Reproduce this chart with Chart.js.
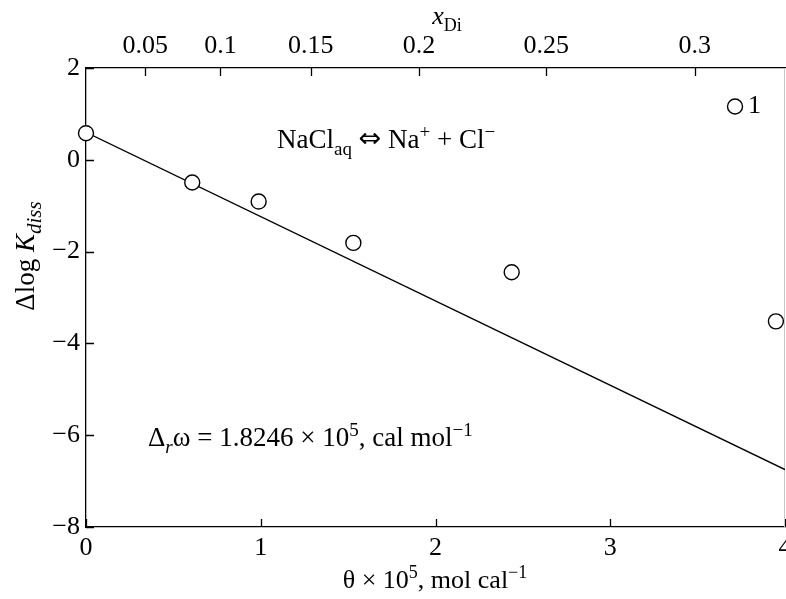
<!DOCTYPE html>
<html>
<head>
<meta charset="utf-8">
<script src="https://cdn.jsdelivr.net/npm/chart.js@4.4.1/dist/chart.umd.min.js"></script>
<style>
  html, body { margin: 0; padding: 0; background: #fff; }
  #wrap { width: 786px; height: 599px; }
</style>
</head>
<body>
<div id="wrap"><canvas id="chart"></canvas></div>
<script>
// measured points (theta x 1e5, delta log K)
const thetaVals = [0, 0.608, 0.988, 1.53, 2.436, 3.714, 3.948];
const logKVals = [0.58, -0.495, -0.91, -1.81, -2.45, 1.16, -3.52];

// fitted straight line
const fitTheta = [0, 4];
const fitLogK = [0.6, -6.75];

// bottom / left ticks
const xTicks = [0, 1, 2, 3, 4];
const yTicks = [2, 0, -2, -4, -6, -8];

// top axis (x_Di) labels and where they sit on the theta scale
const topLabels = ['0.05', '0.1', '0.15', '0.2', '0.25', '0.3'];
const topPos = [0.339, 0.769, 1.286, 1.905, 2.634, 3.483];

const FONT = '"Liberation Serif", "Times New Roman", serif';
const FS = 26;   // ticks and axis titles
const FA = 27;   // annotations inside the plot

const fmt = v => (v < 0 ? '\u2212' + Math.abs(v) : String(v));

// text made of pieces: [text, kind]  kind: '', 'i', 'sub', 'sup', 'isub', 'arrow'
function fontFor(k, size, subScale) {
  if (k === 'arrow') return size + 'px "DejaVu Sans"';
  const small = (k === 'sub' || k === 'sup' || k === 'isub');
  const s = small ? Math.round(size * (subScale || 0.7)) : size;
  const it = (k === 'i' || k === 'isub') ? 'italic ' : '';
  return it + s + 'px ' + FONT;
}
function richWidth(ctx, parts, size, subScale) {
  let w = 0;
  parts.forEach(([t, k]) => {
    ctx.font = fontFor(k, size, subScale);
    w += ctx.measureText(t).width;
  });
  return w;
}
function drawRich(ctx, x, y, parts, size, align, subScale) {
  let cx = x;
  if (align === 'center') cx = x - richWidth(ctx, parts, size, subScale) / 2;
  ctx.textAlign = 'left';
  ctx.textBaseline = 'alphabetic';
  ctx.fillStyle = '#000';
  parts.forEach(([t, k]) => {
    ctx.font = fontFor(k, size, subScale);
    let dy = 0;
    if (k === 'sub' || k === 'isub') dy = size * 0.25;
    if (k === 'sup') dy = -size * 0.38;
    if (k === 'arrow') dy = -size * 0.02;
    ctx.fillText(t, cx, y + dy);
    cx += ctx.measureText(t).width;
  });
}

const decorPlugin = {
  id: 'decor',
  beforeDatasetsDraw(chart) {
    const { ctx, chartArea: a, scales } = chart;
    ctx.save();
    ctx.strokeStyle = '#000';
    ctx.lineWidth = 1.3;
    const tl = 8;
    ctx.beginPath();
    xTicks.forEach(v => {
      const px = Math.round(scales.x.getPixelForValue(v)) + 0.5;
      ctx.moveTo(px, a.bottom); ctx.lineTo(px, a.bottom - tl);
    });
    topPos.forEach(v => {
      const px = Math.round(scales.x2.getPixelForValue(v)) + 0.5;
      ctx.moveTo(px, a.top); ctx.lineTo(px, a.top + tl);
    });
    yTicks.forEach(v => {
      const py = Math.round(scales.y.getPixelForValue(v)) + 0.5;
      ctx.moveTo(a.left, py); ctx.lineTo(a.left + tl, py);
    });
    ctx.stroke();
    // faint right frame
    ctx.strokeStyle = '#c8c8c8';
    ctx.lineWidth = 1;
    ctx.beginPath();
    ctx.moveTo(a.right - 0.5, a.top); ctx.lineTo(a.right - 0.5, a.bottom);
    ctx.stroke();
    ctx.restore();
  },
  afterDatasetsDraw(chart) {
    const { ctx, scales } = chart;
    ctx.save();
    // axis titles
    drawRich(ctx, 447, 24, [['x', 'i'], ['Di', 'sub']], FS, 'center');
    drawRich(ctx, 435, 588, [['\u03b8 \u00d7 10', ''], ['5', 'sup'], [', mol cal', ''], ['\u22121', 'sup']], FS, 'center');
    ctx.save();
    ctx.translate(34, 256);
    ctx.rotate(-Math.PI / 2);
    drawRich(ctx, 0, 0, [['\u0394log ', ''], ['K', 'i'], ['diss', 'isub']], 27, 'center', 0.78);
    ctx.restore();
    // annotations
    drawRich(ctx, 277, 148, [['NaCl', ''], ['aq', 'sub'], [' ', ''], ['\u21d4', 'arrow'], [' Na', ''], ['+', 'sup'], [' + Cl', ''], ['\u2212', 'sup']], FA, 'left');
    drawRich(ctx, 148, 446, [['\u0394', ''], ['r', 'isub'], ['\u03c9 = 1.8246 \u00d7 10', ''], ['5', 'sup'], [', cal mol', ''], ['\u22121', 'sup']], FA, 'left');
    // label next to the upper point
    const px = scales.x.getPixelForValue(thetaVals[5]);
    const py = scales.y.getPixelForValue(logKVals[5]);
    ctx.font = FS + 'px ' + FONT;
    ctx.textAlign = 'left';
    ctx.textBaseline = 'middle';
    ctx.fillText('1', px + 13, py);
    ctx.restore();
  }
};

const noSidePad = s => { s.paddingLeft = 0; s.paddingRight = 0; };

const ctx = document.getElementById('chart').getContext('2d');
new Chart(ctx, {
  type: 'scatter',
  data: {
    datasets: [
      {
        type: 'line',
        data: fitTheta.map((t, i) => ({ x: t, y: fitLogK[i] })),
        borderColor: '#000',
        borderWidth: 1.4,
        pointRadius: 0,
        fill: false,
        order: 2
      },
      {
        data: thetaVals.map((t, i) => ({ x: t, y: logKVals[i] })),
        pointStyle: 'circle',
        pointRadius: 7.5,
        pointBorderWidth: 1.4,
        pointBackgroundColor: '#fff',
        pointBorderColor: '#000',
        clip: false,
        order: 1
      }
    ]
  },
  options: {
    responsive: true,
    maintainAspectRatio: false,
    animation: false,
    layout: { autoPadding: false, padding: { right: 1, left: 0, top: 0, bottom: 0 } },
    plugins: { legend: { display: false }, tooltip: { enabled: false } },
    scales: {
      x: {
        type: 'linear', position: 'bottom', min: 0, max: 4,
        afterBuildTicks: s => { s.ticks = xTicks.map(v => ({ value: v })); },
        afterFit: s => { s.height = 72; noSidePad(s); },
        grid: { display: false, drawTicks: false },
        border: { display: true, color: '#000', width: 1.3 },
        ticks: { color: '#000', padding: 6, font: { family: FONT, size: FS }, callback: v => fmt(v), maxRotation: 0 }
      },
      x2: {
        type: 'linear', position: 'top', min: 0, max: 4,
        afterBuildTicks: s => { s.ticks = topPos.map(v => ({ value: v })); },
        afterFit: s => { s.height = 68; noSidePad(s); },
        grid: { display: false, drawTicks: false },
        border: { display: true, color: '#000', width: 1.3 },
        ticks: {
          color: '#000', padding: 6, font: { family: FONT, size: FS }, maxRotation: 0, autoSkip: false,
          callback: (v, i) => topLabels[i]
        }
      },
      y: {
        type: 'linear', min: -8, max: 2,
        afterBuildTicks: s => { s.ticks = yTicks.map(v => ({ value: v })); },
        afterFit: s => { s.width = 86; s.paddingTop = 0; s.paddingBottom = 0; },
        grid: { display: false, drawTicks: false },
        border: { display: true, color: '#000', width: 1.3 },
        ticks: { color: '#000', padding: 6, font: { family: FONT, size: FS }, callback: v => fmt(v) }
      }
    }
  },
  plugins: [decorPlugin]
});
</script>
</body>
</html>
